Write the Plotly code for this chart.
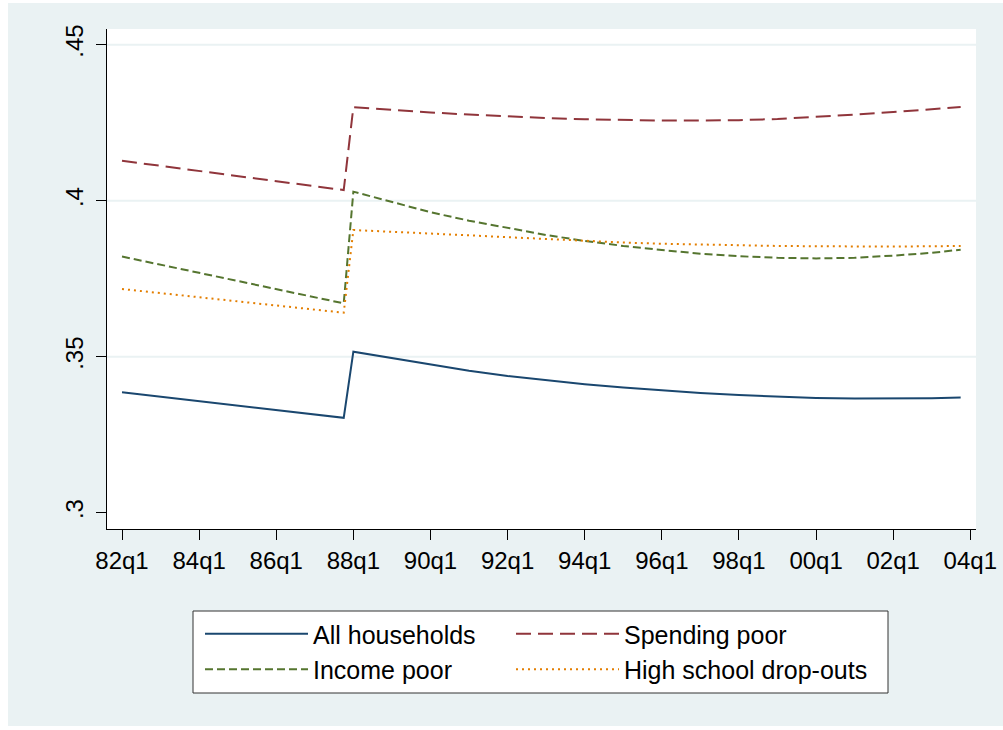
import plotly.graph_objects as go

# ---- data ----
quarters = ["82q1", "83q1", "84q1", "85q1", "86q1", "87q1", "87q4", "88q1",
            "89q1", "90q1", "91q1", "92q1", "93q1", "94q1", "95q1", "96q1",
            "97q1", "98q1", "99q1", "00q1", "01q1", "02q1", "03q1", "03q4"]

all_households = [0.3386, 0.3372, 0.3358, 0.3343, 0.3329, 0.3315, 0.3304, 0.3516,
                  0.3495, 0.3474, 0.3455, 0.3438, 0.3424, 0.3412, 0.3401, 0.3392,
                  0.3384, 0.3377, 0.3372, 0.3368, 0.3366, 0.3366, 0.3367, 0.3369]
spending_poor = [0.4128, 0.4112, 0.4096, 0.4079, 0.4063, 0.4047, 0.4034, 0.4300,
                 0.4291, 0.4283, 0.4276, 0.4270, 0.4265, 0.4261, 0.4258, 0.4257,
                 0.4257, 0.4258, 0.4262, 0.4268, 0.4276, 0.4284, 0.4293, 0.4300]
income_poor = [0.3821, 0.3795, 0.3769, 0.3743, 0.3717, 0.3691, 0.3671, 0.4029,
               0.3995, 0.3963, 0.3936, 0.3912, 0.3890, 0.3871, 0.3855, 0.3842,
               0.3830, 0.3822, 0.3817, 0.3815, 0.3817, 0.3824, 0.3833, 0.3843]
hs_dropouts = [0.3717, 0.3704, 0.3691, 0.3677, 0.3664, 0.3651, 0.3641, 0.3906,
               0.3901, 0.3895, 0.3889, 0.3883, 0.3877, 0.3871, 0.3866, 0.3862,
               0.3859, 0.3857, 0.3855, 0.3854, 0.3853, 0.3853, 0.3854, 0.3855]

series_names = ["All households", "Spending poor", "Income poor", "High school drop-outs"]
x_tick_labels = ["82q1", "84q1", "86q1", "88q1", "90q1", "92q1",
                 "94q1", "96q1", "98q1", "00q1", "02q1", "04q1"]
y_tick_values = [0.30, 0.35, 0.40, 0.45]
y_tick_labels = [".3", ".35", ".4", ".45"]
y_grid_values = [0.35, 0.40, 0.45]


def qindex(label):
    yy = int(label[:2])
    year = 1900 + yy if yy >= 50 else 2000 + yy
    q = int(label[-1])
    return (year - 1982) * 4 + (q - 1)


xq = [qindex(s) for s in quarters]
x_tick_vals = [qindex(s) for s in x_tick_labels]

colors = ["#1a476f", "#90353b", "#55752f", "#e37e00"]
dashes = ["solid", "15px,7px", "8px,4px", "2px,4px"]
legend_ids = ["legend", "legend2", "legend", "legend2"]   # two legend columns
values = [all_households, spending_poor, income_poor, hs_dropouts]

BG = "#eaf2f3"
FONT = "Liberation Sans, Arial, Helvetica, sans-serif"

fig = go.Figure()
for name, vals, c, d, lg in zip(series_names, values, colors, dashes, legend_ids):
    fig.add_trace(go.Scatter(x=xq, y=vals, mode="lines", name=name, legend=lg,
                             line=dict(color=c, width=2, dash=d)))

W, H = 1003, 730
L, R, T, B = 107, 27, 29, 201
pw, ph = W - L - R, H - T - B


def px_x(p):
    return (p - L) / pw


def px_y(p):
    return (H - B - p) / ph


# outer light panel + white plot region
fig.add_shape(type="rect", xref="paper", yref="paper", layer="below",
              x0=px_x(8), x1=px_x(1010), y0=px_y(726), y1=px_y(3),
              fillcolor=BG, line=dict(width=0))
fig.add_shape(type="rect", xref="paper", yref="paper", layer="below",
              x0=0, x1=1, y0=0, y1=1, fillcolor="white", line=dict(width=0))
for gv in y_grid_values:
    fig.add_shape(type="line", xref="paper", yref="y", layer="below",
                  x0=0, x1=1, y0=gv, y1=gv, line=dict(color=BG, width=2))
# legend frame
fig.add_shape(type="rect", xref="paper", yref="paper", layer="below",
              x0=px_x(193), x1=px_x(888), y0=px_y(693), y1=px_y(611),
              fillcolor="white", line=dict(color="#333333", width=1))

ITEMW = 103
leg_common = dict(orientation="v", xanchor="left", yanchor="top",
                  xref="paper", yref="paper", y=px_y(611),
                  bgcolor="rgba(0,0,0,0)", borderwidth=0,
                  font=dict(size=25, family=FONT), itemwidth=ITEMW, tracegroupgap=0)

fig.update_layout(
    width=W, height=H,
    margin=dict(l=L, r=R, t=T, b=B, pad=0, autoexpand=False),
    paper_bgcolor="white", plot_bgcolor="white",
    font=dict(family=FONT, color="black"),
    showlegend=True,
    legend=dict(x=px_x(200), **leg_common),
    legend2=dict(x=px_x(511), **leg_common),
)
fig.update_xaxes(range=[-1.556, 88.59], tickmode="array", tickvals=x_tick_vals,
                 ticktext=x_tick_labels, ticks="outside", ticklen=10, tickwidth=1,
                 tickcolor="black", showline=True, linecolor="black", linewidth=1,
                 showgrid=False, zeroline=False, tickfont=dict(size=24))
fig.update_yaxes(range=[0.29478, 0.45503], tickmode="array", tickvals=y_tick_values,
                 ticktext=y_tick_labels, ticks="outside", ticklen=10, tickwidth=1,
                 tickcolor="black", showline=True, linecolor="black", linewidth=1,
                 showgrid=False, zeroline=False, tickangle=-90, tickfont=dict(size=24),
                 ticklabelstandoff=3)

fig.write_html("out.html", config={"displayModeBar": False},
               post_script="document.body.style.margin='0px';")
